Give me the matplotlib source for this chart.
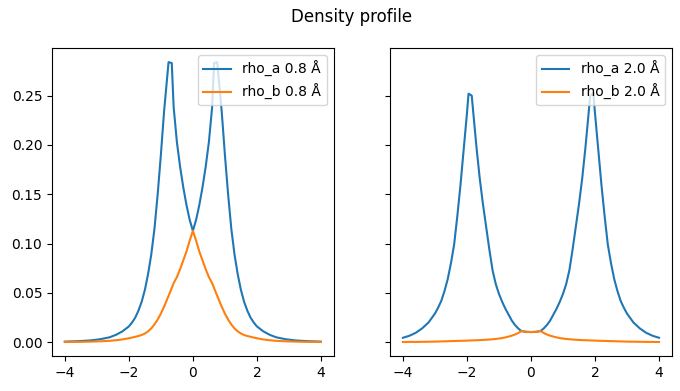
import matplotlib
matplotlib.use("Agg")
import matplotlib.pyplot as plt

# ---- data ----
x_08 = [-4.0, -3.6, -3.2, -2.9, -2.6, -2.4, -2.2, -2.0, -1.9, -1.8, -1.7, -1.6, -1.5, -1.4,
        -1.3, -1.2, -1.1, -1.0, -0.9, -0.76, -0.66, -0.6, -0.5, -0.4, -0.3, -0.2, -0.1, 0.0,
        0.1, 0.2, 0.3, 0.4, 0.5, 0.6, 0.66, 0.76, 0.9, 1.0, 1.1, 1.2, 1.3, 1.4, 1.5, 1.6,
        1.7, 1.8, 1.9, 2.0, 2.2, 2.4, 2.6, 2.9, 3.2, 3.6, 4.0]
rho_a_08 = [0.0006, 0.001, 0.0018, 0.003, 0.005, 0.0075, 0.011, 0.016, 0.020, 0.025, 0.032,
            0.041, 0.053, 0.069, 0.089, 0.115, 0.150, 0.190, 0.234, 0.284, 0.283, 0.238, 0.203,
            0.178, 0.157, 0.139, 0.124, 0.113,
            0.124, 0.139, 0.157, 0.178, 0.203, 0.238, 0.283, 0.284, 0.234, 0.190, 0.150, 0.115,
            0.089, 0.069, 0.053, 0.041, 0.032, 0.025, 0.020, 0.016, 0.011, 0.0075, 0.005, 0.003,
            0.0018, 0.001, 0.0006]
rho_b_08 = [0.0002, 0.0003, 0.0006, 0.0009, 0.0014, 0.002, 0.0028, 0.004, 0.0047, 0.0055,
            0.0063, 0.0073, 0.0088, 0.011, 0.014, 0.018, 0.023, 0.029, 0.036, 0.047, 0.055,
            0.060, 0.066, 0.074, 0.083, 0.092, 0.103, 0.113,
            0.103, 0.092, 0.083, 0.074, 0.066, 0.060, 0.055, 0.047, 0.036, 0.029, 0.023, 0.018,
            0.014, 0.011, 0.0088, 0.0073, 0.0063, 0.0055, 0.0047, 0.004, 0.0028, 0.002, 0.0014,
            0.0009, 0.0006, 0.0003, 0.0002]

x_20 = [-4.0, -3.8, -3.6, -3.4, -3.2, -3.0, -2.9, -2.8, -2.7, -2.6, -2.5, -2.4, -2.3, -2.2,
        -2.1, -2.0, -1.95, -1.85, -1.8, -1.7, -1.6, -1.5, -1.4, -1.3, -1.2, -1.1, -1.0, -0.9,
        -0.8, -0.7, -0.6, -0.5, -0.4, -0.3, -0.15, 0.0,
        0.15, 0.3, 0.4, 0.5, 0.6, 0.7, 0.8, 0.9, 1.0, 1.1, 1.2, 1.3, 1.4, 1.5, 1.6, 1.7, 1.8,
        1.85, 1.95, 2.0, 2.1, 2.2, 2.3, 2.4, 2.5, 2.6, 2.7, 2.8, 2.9, 3.0, 3.2, 3.4, 3.6, 3.8, 4.0]
rho_a_20 = [0.0045, 0.0065, 0.0095, 0.014, 0.020, 0.029, 0.035, 0.042, 0.052, 0.064, 0.080,
            0.099, 0.128, 0.160, 0.196, 0.232, 0.252, 0.250, 0.232, 0.197, 0.166, 0.140, 0.117,
            0.094, 0.073, 0.059, 0.049, 0.041, 0.034, 0.028, 0.022, 0.0175, 0.014, 0.0113,
            0.0105, 0.0103,
            0.0105, 0.0113, 0.014, 0.0175, 0.022, 0.028, 0.034, 0.041, 0.049, 0.059, 0.073,
            0.094, 0.117, 0.140, 0.166, 0.197, 0.232, 0.250, 0.252, 0.232, 0.196, 0.160, 0.128,
            0.099, 0.080, 0.064, 0.052, 0.042, 0.035, 0.029, 0.020, 0.014, 0.0095, 0.0065, 0.0045]
rho_b_20 = [0.0002, 0.0003, 0.0003, 0.0004, 0.0005, 0.0006, 0.0007, 0.0008, 0.0009, 0.001,
            0.0011, 0.0012, 0.0013, 0.0014, 0.0015, 0.0016, 0.0017, 0.0018, 0.0019, 0.002,
            0.0021, 0.0023, 0.0025, 0.0027, 0.003, 0.0033, 0.0037, 0.0042, 0.0049, 0.0057,
            0.0066, 0.0078, 0.0093, 0.0113, 0.0105, 0.0103,
            0.0105, 0.0113, 0.0093, 0.0078, 0.0066, 0.0057, 0.0049, 0.0042, 0.0037, 0.0033,
            0.003, 0.0027, 0.0025, 0.0023, 0.0021, 0.002, 0.0019, 0.0018, 0.0017, 0.0016,
            0.0015, 0.0014, 0.0013, 0.0012, 0.0011, 0.001, 0.0009, 0.0008, 0.0007, 0.0006,
            0.0005, 0.0004, 0.0003, 0.0003, 0.0002]

labels_08 = ["rho_a 0.8 Å", "rho_b 0.8 Å"]
labels_20 = ["rho_a 2.0 Å", "rho_b 2.0 Å"]
x_ticks = [-4, -2, 0, 2, 4]

fig, (ax1, ax2) = plt.subplots(1, 2, sharey=True, figsize=(6.8, 3.91), dpi=100)
fig.subplots_adjust(left=0.0765, right=0.988, bottom=0.0895, top=0.877, wspace=0.2)

ax1.plot(x_08, rho_a_08, label=labels_08[0])
ax1.plot(x_08, rho_b_08, label=labels_08[1])
ax1.legend(loc="upper right")
ax1.set_xticks(x_ticks)

ax2.plot(x_20, rho_a_20, label=labels_20[0])
ax2.plot(x_20, rho_b_20, label=labels_20[1])
ax2.legend(loc="upper right")
ax2.set_xticks(x_ticks)

fig.suptitle("Density profile", x=0.5176, y=0.98)
fig.savefig("out.png", dpi=100)
